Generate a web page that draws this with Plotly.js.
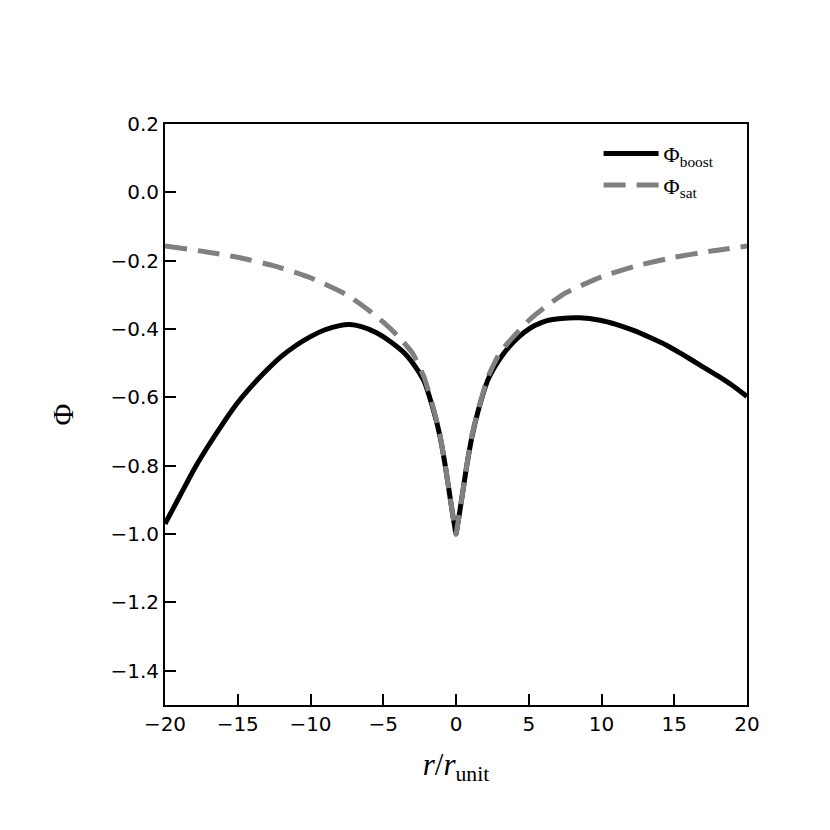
<!DOCTYPE html>
<html>
<head>
<meta charset="utf-8">
<script src="https://cdn.plot.ly/plotly-3.0.1.min.js"></script>
<style>html,body{margin:0;padding:0;background:#fff;}</style>
</head>
<body>
<div id="chart" style="width:830px;height:830px;"></div>
<script>
// Phi_sat
const satR = [-20, -17.5, -15, -12.5, -10, -7.5, -6, -5, -4, -3, -2.2, -1.5, -1.1, -0.7, -0.4, -0.2, -0.1, 0,
              0.1, 0.2, 0.4, 0.7, 1.1, 1.5, 2.2, 3, 4, 5, 6, 7.5, 10, 12.5, 15, 17.5, 20];
const satPhi = [-0.157, -0.172, -0.19, -0.215, -0.25, -0.30, -0.345, -0.38, -0.42, -0.47, -0.54, -0.64, -0.71, -0.81, -0.895, -0.95, -0.975, -1.0,
                -0.975, -0.95, -0.895, -0.81, -0.71, -0.64, -0.54, -0.47, -0.42, -0.375, -0.34, -0.295, -0.247, -0.214, -0.19, -0.172, -0.157];

// Phi_boost
const boostR = [-20, -19, -18, -17, -16, -15, -14, -13, -12, -11, -10, -9, -8, -7.3, -6.5, -5.5, -4.5, -3.5, -3, -2.2, -1.5, -1.1, -0.7, -0.4, -0.2, -0.1, 0,
                0.1, 0.2, 0.4, 0.7, 1.1, 1.5, 2.2, 2.7, 3.3, 3.85, 4.5, 5, 5.45, 6.2, 7.05, 8.5, 9.9, 11, 12.2, 13.3, 14.5, 15.6, 16.8, 18, 19, 20];
const boostPhi = [-0.97, -0.89, -0.81, -0.74, -0.675, -0.615, -0.565, -0.52, -0.48, -0.448, -0.422, -0.402, -0.39, -0.387, -0.393, -0.41, -0.437, -0.472, -0.498, -0.552, -0.645, -0.714, -0.81, -0.895, -0.95, -0.975, -1.0,
                  -0.975, -0.95, -0.895, -0.81, -0.714, -0.643, -0.548, -0.508, -0.47, -0.442, -0.416, -0.40, -0.389, -0.376, -0.370, -0.367, -0.374, -0.386, -0.404, -0.424, -0.448, -0.475, -0.506, -0.537, -0.565, -0.597];

const xTicks = [-20, -15, -10, -5, 0, 5, 10, 15, 20];
const xTickText = ['\u221220', '\u221215', '\u221210', '\u22125', '0', '5', '10', '15', '20'];
const yTicks = [0.2, 0.0, -0.2, -0.4, -0.6, -0.8, -1.0, -1.2, -1.4];
const yTickText = ['0.2', '0.0', '\u22120.2', '\u22120.4', '\u22120.6', '\u22120.8', '\u22121.0', '\u22121.2', '\u22121.4'];

const traces = [
  {x: boostR, y: boostPhi, mode: 'lines', name: '\u03A6<sub>boost</sub>',
   line: {color: '#000000', width: 5, shape: 'spline', smoothing: 0.5}},
  {x: satR, y: satPhi, mode: 'lines', name: '\u03A6<sub>sat</sub>',
   line: {color: '#808080', width: 5, dash: '22px,11px', shape: 'spline', smoothing: 0.5}}
];

const axisCommon = {
  showgrid: false, zeroline: false, showline: true, linecolor: '#000', linewidth: 2,
  mirror: true, ticks: 'inside', ticklen: 11, tickwidth: 2, tickcolor: '#000',
  tickfont: {family: 'DejaVu Sans, sans-serif', size: 20, color: '#000'}
};

const layout = {
  width: 830, height: 830,
  margin: {l: 165, r: 83, t: 124, b: 125},
  paper_bgcolor: '#fff', plot_bgcolor: '#fff',
  showlegend: true,
  legend: {x: 0.745, y: 0.985, xanchor: 'left', yanchor: 'top', bgcolor: 'rgba(0,0,0,0)',
           itemwidth: 55,
           font: {family: 'Liberation Serif, serif', size: 22, color: '#000'}, tracegroupgap: 0},
  xaxis: Object.assign({}, axisCommon, {
    range: [-20, 20], tickvals: xTicks, ticktext: xTickText,
    title: {text: '<i>r</i>/<i>r</i><sub>unit</sub>', font: {family: 'Liberation Serif, serif', size: 31, color: '#000'}, standoff: 18}
  }),
  yaxis: Object.assign({}, axisCommon, {
    range: [-1.5, 0.2], tickvals: yTicks, ticktext: yTickText,
    title: {text: '\u03A6', font: {family: 'Liberation Serif, serif', size: 30, color: '#000'}, standoff: 28}
  })
};

Plotly.newPlot('chart', traces, layout, {displayModeBar: false, staticPlot: true});
</script>
</body>
</html>
